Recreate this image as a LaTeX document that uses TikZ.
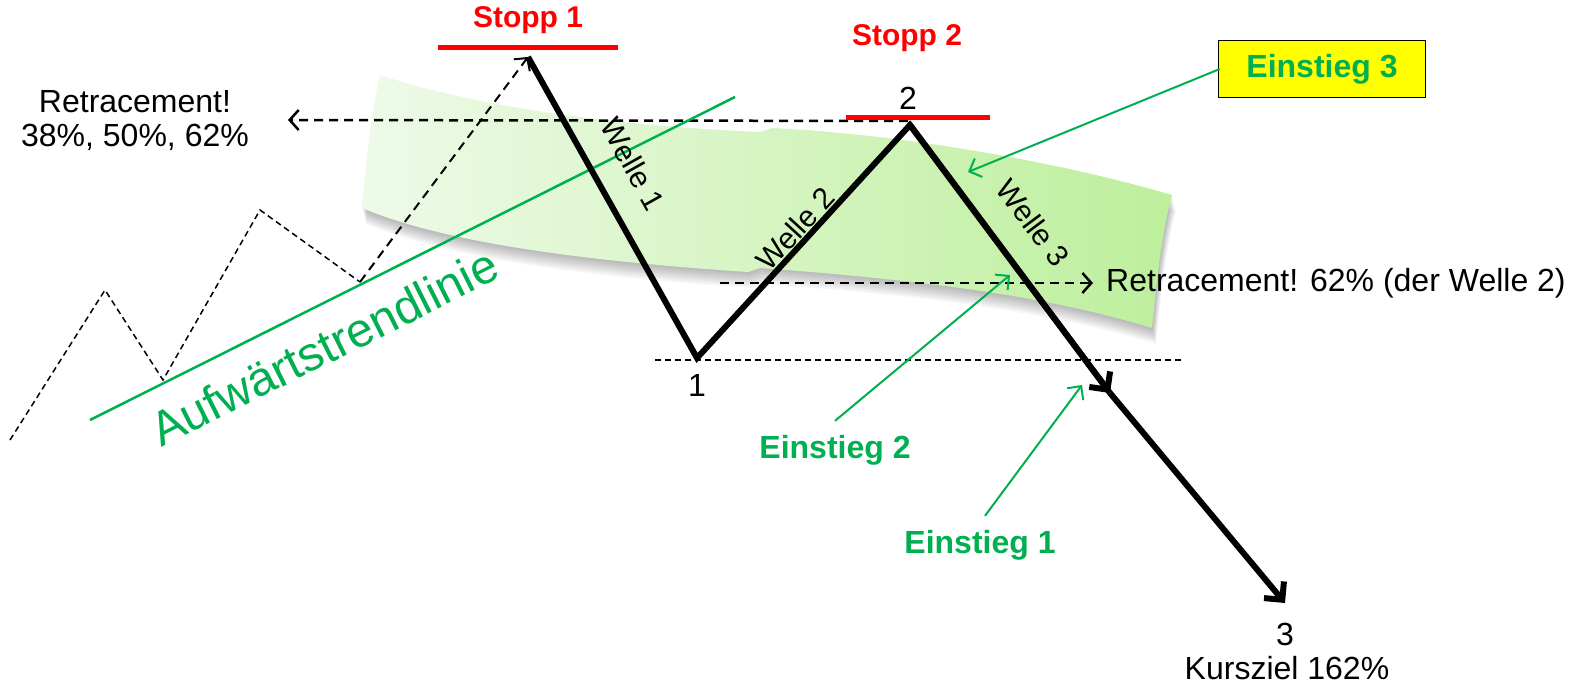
\documentclass[tikz,border=0pt]{standalone}
\usepackage{fontspec}
\setmainfont{Liberation Sans}
\usetikzlibrary{arrows.meta}
\definecolor{grn}{HTML}{00B050}
\definecolor{bandL}{HTML}{EEFAE8}
\definecolor{bandR}{HTML}{BDEF9C}
\definecolor{redc}{HTML}{FF0000}
\definecolor{yel}{HTML}{FFFF00}
\begin{document}
\begin{tikzpicture}[x=1pt,y=-1pt,
  wave/.style={line width=6pt,black,line join=miter},
  wavetip/.style={-{Straight Barb[length=13pt,width=26pt]}},
  thindash/.style={line width=1.5pt,dash pattern=on 6pt off 4pt},
  thickdash/.style={line width=2.5pt,dash pattern=on 9pt off 6pt},
  dtip/.style={-{Straight Barb[length=9pt,width=20pt]}},
  ga/.style={grn,line width=2pt,-{Straight Barb[length=10pt,width=20pt]}},
  stopline/.style={redc,line width=5pt},
  lbl/.style={font=\fontsize{32}{36}\selectfont,inner sep=0pt},
  wlbl/.style={font=\fontsize{30}{33}\selectfont,inner sep=0pt},
  redlbl/.style={font=\fontsize{30}{34}\selectfont\bfseries,text=redc,inner sep=0pt},
  grnlbl/.style={font=\fontsize{32}{36}\selectfont\bfseries,text=grn,inner sep=0pt}]
\useasboundingbox (0,0) rectangle (1573,693);
\fill[white] (0,0) rectangle (1573,693);
\def\bandpath{(380,75) .. controls (480,108) and (620,126) .. (760,132) -- (772,128)
   .. controls (900,134) and (1060,162) .. (1172,195) .. controls (1160,240) and (1156,290) .. (1152,328)
   .. controls (1060,300) and (950,282) .. (760,268) -- (748,272)
   .. controls (600,262) and (450,245) .. (362,208)
   .. controls (366,160) and (372,110) .. (380,75) -- cycle}
% band shadow
\foreach \s in {16,14,12,10,8,6,4,2}{
  \fill[black,opacity=0.035,shift={(\s/4,\s)}] \bandpath;}
% band
\shade[left color=bandL,right color=bandR] \bandpath;
% coordinates
\coordinate (p0) at (528,57);
\coordinate (p1) at (697,358);
\coordinate (p2) at (910,125);
\coordinate (pm) at (1110,393);
\coordinate (p3) at (1285,603);
\coordinate (z0) at (10,440);
\coordinate (z1) at (105,290);
\coordinate (z2) at (163,380);
\coordinate (z3) at (260,210);
\coordinate (z4) at (360,282);
\coordinate (r1s) at (908,121);
\coordinate (r1e) at (288,120);
\coordinate (r2s) at (720,283);
\coordinate (r2e) at (1093,283);
\coordinate (h1s) at (655,360);
\coordinate (h1e) at (1182,360);
\coordinate (t0) at (90,420);
\coordinate (t1) at (735,97);
\coordinate (a3) at (968,172);
\coordinate (a2) at (1010,275);
\coordinate (a1) at (1082,385);
% zigzag
\draw[thindash] (z0) -- (z1) -- (z2) -- (z3) -- (z4);
\draw[thickdash,line width=2pt,dtip] (z4) -- (p0);
% dashed helper lines
\draw[thickdash,dtip] (r1s) -- (r1e);
\draw[thickdash,dtip] (r2s) -- (r2e);
\draw[thindash] (h1s) -- (h1e);
% trendline
\draw[grn,line width=2.5pt] (t0) -- (t1);
\node[font=\fontsize{48}{52}\selectfont,text=grn,rotate=26.6,inner sep=0pt] (trend) at (324,347) {Aufwärtstrendlinie};
% waves
\draw[wave] (p0) -- (p1) -- (p2) -- (pm);
\draw[wave,wavetip] (p2) -- (pm);
\draw[wave,wavetip] (pm) -- (p3);
% stops
\draw[stopline] (438,48) -- (618,48);
\draw[stopline] (846,117) -- (990,117);
\node[redlbl] (s1) at (528,20) {Stopp 1};
\node[redlbl] (s2) at (907,38) {Stopp 2};
% labels
\node[lbl] (n1) at (697,385) {1};
\node[lbl] (n2) at (908,98) {2};
\node[lbl] (n3) at (1285,634) {3};
\node[lbl] (kz) at (1287,668) {Kursziel 162\%};
\node[lbl,align=center] (ret1) at (135,121) {Retracement!\\[-2pt]38\%, 50\%, 62\%};
\node[lbl,anchor=west] (ret2) at (1106,283) {Retracement! 62\% (der Welle 2)};
\node[wlbl,rotate=-60.7] (w1) at (633,164) {Welle 1};
\node[wlbl,rotate=47.6] (w2) at (795,229) {Welle 2};
\node[wlbl,rotate=-53.3] (w3) at (1033,223) {Welle 3};
% Einstieg
\node[grnlbl,draw=black,line width=1.5pt,fill=yel,minimum width=207pt,minimum height=57pt] (e3) at (1322,69) {Einstieg 3};
\node[grnlbl] (e2) at (835,450) {Einstieg 2};
\node[grnlbl] (e1) at (980,545) {Einstieg 1};
\draw[ga] ([xshift=2pt]e3.west) -- (a3);
\draw[ga] ([yshift=14pt]e2.north) -- (a2);
\draw[ga] ([xshift=5pt,yshift=14pt]e1.north) -- (a1);
\end{tikzpicture}
\end{document}
